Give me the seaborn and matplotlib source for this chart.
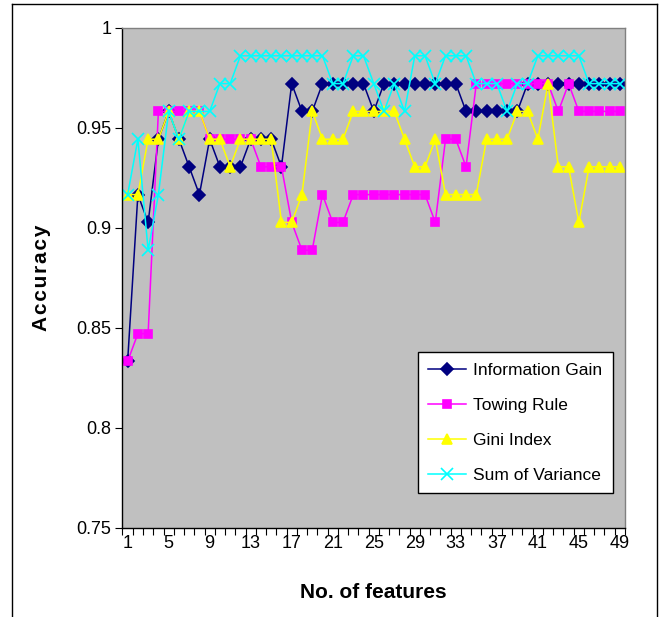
import numpy as np
import pandas as pd
import matplotlib
matplotlib.use("Agg")
import matplotlib.pyplot as plt
from matplotlib.lines import Line2D
from matplotlib.ticker import FixedLocator
import seaborn as sns

features = list(range(1, 50))
info_gain = [0.8333, 0.9167, 0.9028, 0.9444, 0.9583, 0.9444, 0.9306, 0.9167, 0.9444, 0.9306,
             0.9306, 0.9306, 0.9444, 0.9444, 0.9444, 0.9306, 0.9722, 0.9583, 0.9583, 0.9722,
             0.9722, 0.9722, 0.9722, 0.9722, 0.9583, 0.9722, 0.9722, 0.9722, 0.9722, 0.9722,
             0.9722, 0.9722, 0.9722, 0.9583, 0.9583, 0.9583, 0.9583, 0.9583, 0.9583, 0.9722,
             0.9722, 0.9722, 0.9722, 0.9722, 0.9722, 0.9722, 0.9722, 0.9722, 0.9722]
towing = [0.8333, 0.8472, 0.8472, 0.9583, 0.9583, 0.9583, 0.9583, 0.9583, 0.9444, 0.9444,
          0.9444, 0.9444, 0.9444, 0.9306, 0.9306, 0.9306, 0.9028, 0.8889, 0.8889, 0.9167,
          0.9028, 0.9028, 0.9167, 0.9167, 0.9167, 0.9167, 0.9167, 0.9167, 0.9167, 0.9167,
          0.9028, 0.9444, 0.9444, 0.9306, 0.9722, 0.9722, 0.9722, 0.9722, 0.9722, 0.9722,
          0.9722, 0.9722, 0.9583, 0.9722, 0.9583, 0.9583, 0.9583, 0.9583, 0.9583]
gini = [0.9167, 0.9167, 0.9444, 0.9444, 0.9583, 0.9444, 0.9583, 0.9583, 0.9444, 0.9444,
        0.9306, 0.9444, 0.9444, 0.9444, 0.9444, 0.9028, 0.9028, 0.9167, 0.9583, 0.9444,
        0.9444, 0.9444, 0.9583, 0.9583, 0.9583, 0.9583, 0.9583, 0.9444, 0.9306, 0.9306,
        0.9444, 0.9167, 0.9167, 0.9167, 0.9167, 0.9444, 0.9444, 0.9444, 0.9583, 0.9583,
        0.9444, 0.9722, 0.9306, 0.9306, 0.9028, 0.9306, 0.9306, 0.9306, 0.9306]
variance = [0.9167, 0.9444, 0.8889, 0.9167, 0.9583, 0.9444, 0.9583, 0.9583, 0.9583, 0.9722,
            0.9722, 0.9861, 0.9861, 0.9861, 0.9861, 0.9861, 0.9861, 0.9861, 0.9861, 0.9861,
            0.9722, 0.9722, 0.9861, 0.9861, 0.9722, 0.9583, 0.9722, 0.9583, 0.9861, 0.9861,
            0.9722, 0.9861, 0.9861, 0.9861, 0.9722, 0.9722, 0.9722, 0.9583, 0.9722, 0.9722,
            0.9861, 0.9861, 0.9861, 0.9861, 0.9861, 0.9722, 0.9722, 0.9722, 0.9722]

series_names = ["Information Gain", "Towing Rule", "Gini Index", "Sum of Variance"]
series_values = [info_gain, towing, gini, variance]
colors = ["#000080", "#FF00FF", "#FFFF00", "#00FFFF"]
markers = ["D", "s", "^", "x"]
msizes = [6, 6, 7.5, 8]

x_tick_labels = [str(v) for v in range(1, 50, 4)]
y_ticks = [0.75, 0.8, 0.85, 0.9, 0.95, 1.0]
y_tick_labels = ["0.75", "0.8", "0.85", "0.9", "0.95", "1"]

plt.rcParams["font.family"] = ["Liberation Sans", "DejaVu Sans"]

fig = plt.figure(figsize=(6.68, 6.17), dpi=100)
ax = fig.add_axes([122.5 / 668, 1 - 528 / 617, (625 - 122.5) / 668, 500 / 617])
ax.set_facecolor("#C0C0C0")

for name, vals, c, m, ms in zip(series_names, series_values, colors, markers, msizes):
    df = pd.DataFrame({"x": features, "y": vals})
    sns.lineplot(data=df, x="x", y="y", ax=ax, color=c, marker=m, markersize=ms,
                 markeredgecolor=c, markerfacecolor=c, markeredgewidth=1.2,
                 linewidth=1.1, label=name)

ax.set_xlim(0.5, 49.5)
ax.set_ylim(0.75, 1.0)

ax.xaxis.set_major_locator(FixedLocator(list(range(1, 50, 4))))
ax.set_xticklabels(x_tick_labels)
ax.xaxis.set_minor_locator(FixedLocator(np.arange(0.5, 50, 1.0)))
ax.tick_params(axis="x", which="major", length=0, pad=5, labelsize=13)
ax.tick_params(axis="x", which="minor", length=5, direction="out", width=0.8, color="black")

ax.set_yticks(y_ticks)
ax.set_yticklabels(y_tick_labels)
ax.tick_params(axis="y", which="major", length=5, direction="out", width=0.8, pad=3, labelsize=13)

for side in ["top", "right"]:
    ax.spines[side].set_color("#808080")
    ax.spines[side].set_linewidth(1.0)
for side in ["left", "bottom"]:
    ax.spines[side].set_color("black")
    ax.spines[side].set_linewidth(1.0)

ax.set_xlabel("No. of features", fontsize=15, fontweight="bold", labelpad=22)
ax.set_ylabel("A\u200ac\u200ac\u200au\u200ar\u200aa\u200ac\u200ay", fontsize=15,
              fontweight="bold", labelpad=18)
ax.grid(False)

leg = ax.legend(loc="lower right", bbox_to_anchor=(0.976, 0.07), borderaxespad=0,
                frameon=True, fancybox=False, edgecolor="black", facecolor="white",
                framealpha=1, fontsize=12.5, handlelength=2.2, labelspacing=1.14,
                borderpad=0.6, handletextpad=0.4)
leg.get_frame().set_linewidth(1.0)

# outer chart border
fig.add_artist(Line2D([12 / 668, 12 / 668], [0, 1 - 4 / 617], color="black", lw=1.0))
fig.add_artist(Line2D([12 / 668, 657 / 668], [1 - 4 / 617, 1 - 4 / 617], color="black", lw=1.0))
fig.add_artist(Line2D([657 / 668, 657 / 668], [0, 1 - 4 / 617], color="black", lw=1.0))

fig.savefig("out.png", dpi=100, facecolor="white")
